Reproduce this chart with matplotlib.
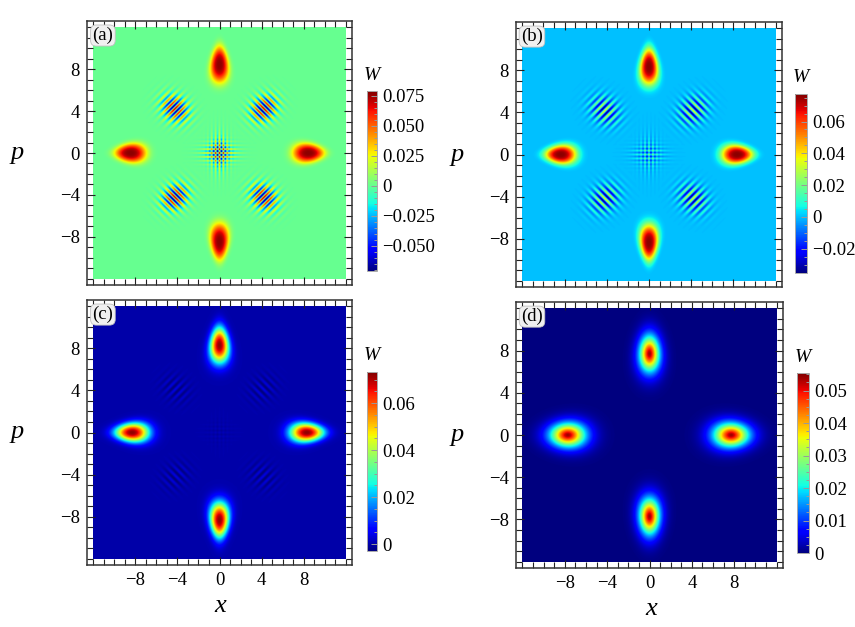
import numpy as np
import matplotlib
matplotlib.use('Agg')
import matplotlib.pyplot as plt
from matplotlib.ticker import MultipleLocator, FixedLocator

# ---------------- data ----------------
PANEL_LABELS = ['(a)', '(b)', '(c)', '(d)']
PEAK_RADIUS = [8.45, 8.35, 8.3, 7.7]          # distance of the four lobes from origin
PEAK_AMP = [0.077, 0.076, 0.072, 0.054]       # lobe maximum of W
PEAK_SHAPE = [1.5, 1.5, 1.15, 0.85]           # flatness of the lobes (1 = gaussian)
SIDE_SIGMA_R = [1.05, 1.05, 1.12, 1.14]       # lobes on x axis: radial width
SIDE_SIGMA_T = [0.63, 0.63, 0.62, 0.77]       # lobes on x axis: tangential width
TOP_SIGMA_R = [1.22, 1.22, 1.18, 1.16]        # lobes on p axis: radial width
TOP_SIGMA_T = [0.60, 0.60, 0.62, 0.65]        # lobes on p axis: tangential width
TAPER = [0.13, 0.13, 0.10, 0.03]              # teardrop narrowing toward the outside
DIAG_AMP = [0.072, 0.034, 0.0035, 0.0]        # interference at (+-4, +-4)
DIAG_SIGMA_R = [1.0, 1.0, 1.0, 1.0]
DIAG_SIGMA_T = [0.8, 0.8, 0.8, 0.8]
CENTER_AMP = [0.045, 0.012, 0.0006, 0.0]      # interference at the origin
VMIN = [-0.071, -0.0352, -0.0029, 0.0]
VMAX = [0.079, 0.0773, 0.0732, 0.0554]
CBAR_TICKS = [[-0.05, -0.025, 0, 0.025, 0.05, 0.075],
              [-0.02, 0, 0.02, 0.04, 0.06],
              [0, 0.02, 0.04, 0.06],
              [0, 0.01, 0.02, 0.03, 0.04, 0.05]]
CBAR_TICKLABELS = [['\u22120.050', '\u22120.025', '0', '0.025', '0.050', '0.075'],
                   ['\u22120.02', '0', '0.02', '0.04', '0.06'],
                   ['0', '0.02', '0.04', '0.06'],
                   ['0', '0.01', '0.02', '0.03', '0.04', '0.05']]
CBAR_MINOR = [0.005, 0.005, 0.005, 0.0025]
AXIS_TICKS = [-8, -4, 0, 4, 8]
AXIS_TICKLABELS = ['\u22128', '\u22124', '0', '4', '8']
LOBE_ANGLES = [0, 90, 180, 270]

# ---------------- layout (pixels, y from top) ----------------
W_PX, H_PX = 855, 627
AX_RECTS = [(87, 21, 352, 285), (516, 22, 782, 287), (87, 300, 352, 565), (516, 302, 783, 568)]
CB_RECTS = [(367, 91, 377, 271), (795, 94, 807, 273), (367, 372, 377, 551), (797, 373, 809, 553)]
P_LABEL_POS = [(17, 153), (457, 155), (17, 432), (457, 435)]
X_LABEL_POS = [(220, 606), (651, 609)]

SERIF = ['Liberation Serif', 'DejaVu Serif']


def frac_rect(r):
    x0, y0, x1, y1 = r
    return [x0 / W_PX, 1 - y1 / H_PX, (x1 - x0) / W_PX, (y1 - y0) / H_PX]


N = 600
g = np.linspace(-12, 12, N)
X, P = np.meshgrid(g, g)


def field(i):
    r0 = PEAK_RADIUS[i]
    q = PEAK_SHAPE[i]
    W = np.zeros_like(X)
    centers = []
    for ang in LOBE_ANGLES:
        t = np.deg2rad(ang)
        c, s = np.cos(t), np.sin(t)
        centers.append((r0 * c, r0 * s))
        u = X * c + P * s - r0
        v = -X * s + P * c
        if ang in (0, 180):
            sr, st = SIDE_SIGMA_R[i], SIDE_SIGMA_T[i]
        else:
            sr, st = TOP_SIGMA_R[i], TOP_SIGMA_T[i]
        stu = st * np.clip(1 - TAPER[i] * u, 0.4, 3.0)
        rho2 = u ** 2 / sr ** 2 + v ** 2 / stu ** 2
        W += PEAK_AMP[i] * np.exp(-(rho2 / 2) ** q)
    # adjacent-pair interference
    for j in range(4):
        a = centers[j]
        b = centers[(j + 1) % 4]
        cx, cp = (a[0] + b[0]) / 2, (a[1] + b[1]) / 2
        dx, dp = a[0] - b[0], a[1] - b[1]
        kx, kp = dp, -dx
        rr = np.hypot(cx, cp)
        ex, ep = cx / rr, cp / rr
        u = (X - cx) * ex + (P - cp) * ep
        v = -(X - cx) * ep + (P - cp) * ex
        env = np.exp(-u ** 2 / (2 * DIAG_SIGMA_R[i] ** 2) - v ** 2 / (2 * DIAG_SIGMA_T[i] ** 2))
        W += DIAG_AMP[i] * env * np.cos(kx * (X - cx) + kp * (P - cp))
    # opposite-pair interference at origin
    envx = np.exp(-X ** 2 / (2 * SIDE_SIGMA_R[i] ** 2) - P ** 2 / (2 * SIDE_SIGMA_T[i] ** 2))
    envp = np.exp(-X ** 2 / (2 * TOP_SIGMA_T[i] ** 2) - P ** 2 / (2 * TOP_SIGMA_R[i] ** 2))
    W += CENTER_AMP[i] * (envx * np.cos(2 * r0 * P) + envp * np.cos(2 * r0 * X))
    return W


fig = plt.figure(figsize=(W_PX / 100, H_PX / 100), dpi=100)
fig.patch.set_facecolor('white')

for i in range(4):
    ax = fig.add_axes(frac_rect(AX_RECTS[i]))
    Wf = field(i)
    im = ax.imshow(Wf, cmap='jet', vmin=VMIN[i], vmax=VMAX[i], origin='lower',
                   extent=[-12, 12, -12, 12], interpolation='antialiased', aspect='auto')
    ax.set_xlim(-12.6, 12.6)
    ax.set_ylim(-12.6, 12.6)
    ax.xaxis.set_major_locator(FixedLocator(AXIS_TICKS))
    ax.yaxis.set_major_locator(FixedLocator(AXIS_TICKS))
    ax.xaxis.set_minor_locator(MultipleLocator(1))
    ax.yaxis.set_minor_locator(MultipleLocator(1))
    ax.tick_params(which='both', direction='in', top=True, right=True, width=0.8, color='#222222')
    ax.tick_params(which='major', length=6)
    ax.tick_params(which='minor', length=4)
    ax.set_yticklabels(AXIS_TICKLABELS, fontfamily=SERIF, fontsize=13.5)
    if i >= 2:
        ax.set_xticklabels(AXIS_TICKLABELS, fontfamily=SERIF, fontsize=13.5)
    else:
        ax.set_xticklabels([])
    ax.tick_params(which='major', pad=5)
    for sp in ax.spines.values():
        sp.set_linewidth(1.1)
        sp.set_color('#333333')
    ax.text(0.06, 0.945, PANEL_LABELS[i], transform=ax.transAxes, ha='center', va='center',
            fontfamily=SERIF, fontsize=13.5,
            bbox=dict(boxstyle='round,pad=0.1,rounding_size=0.3', fc='#f0f0f0', ec='#c0c0c0', lw=0.6))

    cax = fig.add_axes(frac_rect(CB_RECTS[i]))
    cb = fig.colorbar(im, cax=cax)
    cb.set_ticks(CBAR_TICKS[i])
    cb.set_ticklabels(CBAR_TICKLABELS[i])
    cax.yaxis.set_minor_locator(MultipleLocator(CBAR_MINOR[i]))
    cax.tick_params(which='both', direction='in', color='#999999', width=0.7, labelsize=13.5, pad=4)
    cax.tick_params(which='major', length=4)
    cax.tick_params(which='minor', length=2.5)
    for lab in cax.get_yticklabels():
        lab.set_fontfamily(SERIF)
    cb.outline.set_edgecolor('#aaaaaa')
    cb.outline.set_linewidth(0.7)
    x0, y0, x1, y1 = CB_RECTS[i]
    fig.text((x0 + x1) / 2 / W_PX, 1 - (y0 - 16) / H_PX, 'W', ha='center', va='center',
             fontfamily=SERIF, fontstyle='italic', fontsize=14)

for (px, py) in P_LABEL_POS:
    fig.text(px / W_PX, 1 - py / H_PX, 'p', ha='center', va='center',
             fontfamily=SERIF, fontstyle='italic', fontsize=19)
for (px, py) in X_LABEL_POS:
    fig.text(px / W_PX, 1 - py / H_PX, 'x', ha='center', va='center',
             fontfamily=SERIF, fontstyle='italic', fontsize=19)

fig.savefig('out.png', dpi=100)
